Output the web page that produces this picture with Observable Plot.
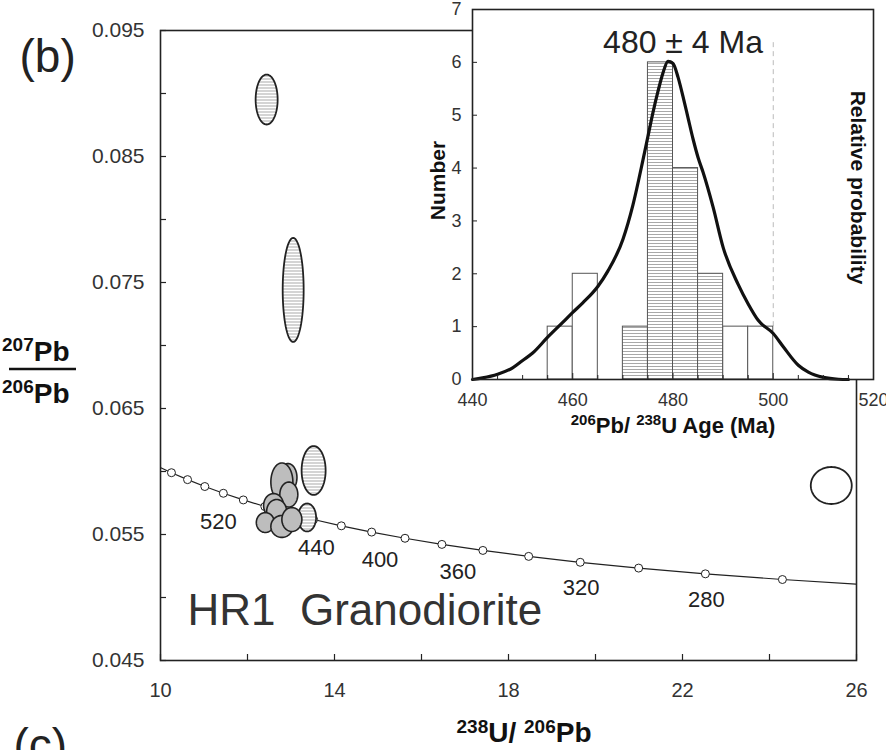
<!DOCTYPE html>
<html><head><meta charset="utf-8">
<script src="https://cdn.jsdelivr.net/npm/d3@7"></script>
<script src="https://cdn.jsdelivr.net/npm/@observablehq/plot@0.6"></script>
<style>
html,body{margin:0;padding:0;background:#fff;overflow:hidden}
#wrap{position:relative;width:886px;height:750px;overflow:hidden;background:#fff}
#wrap svg{position:absolute;left:0;top:0}
</style></head><body><div id="wrap"></div>
<script>
const FONT = "'Liberation Sans', Arial, Helvetica, sans-serif";

// ---------- Main Tera-Wasserburg diagram ----------
const xTickLabels = [10, 14, 18, 22, 26];
const xTickMarks = [10, 12, 14, 16, 18, 20, 22, 24, 26];
const yTickLabels = [0.045, 0.055, 0.065, 0.075, 0.085, 0.095];
const yTickMarks = [0.045, 0.05, 0.055, 0.06, 0.065, 0.07, 0.075, 0.08, 0.085, 0.09, 0.095];

// concordia (age in Ma, 238U/206Pb, 207Pb/206Pb)
const concAge = [620, 600, 580, 560, 540, 520, 500, 480, 460, 440, 420, 400, 380, 360, 340, 320, 300, 280, 260, 240];
const concX = [9.906, 10.252, 10.622, 11.019, 11.445, 11.904, 12.399, 12.936, 13.520, 14.157, 14.854, 15.621, 16.469, 17.411, 18.464, 19.649, 20.992, 22.526, 24.297, 26.364];
const concY = [0.060460, 0.059904, 0.059354, 0.058808, 0.058272, 0.057743, 0.057219, 0.056703, 0.056193, 0.055689, 0.055192, 0.054700, 0.054215, 0.053736, 0.053263, 0.052795, 0.052334, 0.051878, 0.051427, 0.050981];
const concMarkedAges = [600, 580, 560, 540, 520, 500, 480, 460, 440, 420, 400, 380, 360, 340, 320, 300, 280, 260];
const concLabelsA = [520, 440, 400, 360];
const concLabelsB = [320, 280];

// error ellipses: centre and semi-axes in data units
const hatchedEllipses = [
  {x: 12.44, y: 0.08952, rx: 0.253, ry: 0.00198},
  {x: 13.05, y: 0.07441, rx: 0.241, ry: 0.00413},
  {x: 13.52, y: 0.06008, rx: 0.276, ry: 0.00194},
  {x: 13.37, y: 0.05635, rx: 0.207, ry: 0.00111}
];
const openEllipses = [
  {x: 25.42, y: 0.05889, rx: 0.471, ry: 0.00147}
];
const grayEllipses = [
  {x: 12.93, y: 0.05952, rx: 0.207, ry: 0.00111},
  {x: 12.79, y: 0.05917, rx: 0.253, ry: 0.00151},
  {x: 12.95, y: 0.05817, rx: 0.207, ry: 0.00099},
  {x: 12.60, y: 0.05730, rx: 0.230, ry: 0.00095},
  {x: 12.67, y: 0.05683, rx: 0.230, ry: 0.00095},
  {x: 12.41, y: 0.05595, rx: 0.207, ry: 0.00079},
  {x: 12.79, y: 0.05564, rx: 0.253, ry: 0.00087},
  {x: 13.02, y: 0.05619, rx: 0.230, ry: 0.00095}
];
const sampleName = "HR1  Granodiorite";

// ---------- Inset histogram ----------
const binStart = [455, 460, 470, 475, 480, 485, 490, 495];
const binCount = [1, 2, 1, 6, 4, 2, 1, 1];
const binUsed = [false, false, true, true, true, true, false, false];
const binWidth = 5;
const insetXTicks = [440, 460, 480, 500, 520];
const insetYTicks = [0, 1, 2, 3, 4, 5, 6, 7];
const pdfAge = [440, 442, 445, 448, 450, 452, 455, 458, 460, 462, 465, 467, 470, 472, 474, 475, 476, 477, 478, 479, 480, 481, 482, 483, 484, 485, 486, 488, 490, 493, 495, 497, 500, 502, 505, 507, 510, 513, 515];
const pdfValue = [0.0, 0.03, 0.10, 0.22, 0.36, 0.50, 0.80, 1.08, 1.27, 1.45, 1.76, 2.05, 2.65, 3.30, 4.15, 4.60, 5.05, 5.45, 5.80, 6.02, 5.98, 5.72, 5.35, 4.95, 4.55, 4.20, 3.92, 3.26, 2.50, 1.80, 1.43, 1.12, 0.87, 0.62, 0.27, 0.14, 0.04, 0.005, 0.0];
const meanAgeLabel = "480 ± 4 Ma";

// ---------- derived tables ----------
const conc = concAge.map((a, i) => ({age: a, x: concX[i], y: concY[i]}));
const concDots = conc.filter(d => concMarkedAges.includes(d.age));
const labA = conc.filter(d => concLabelsA.includes(d.age));
const labB = conc.filter(d => concLabelsB.includes(d.age));
function outline(list) {
  return list.flatMap((e, i) => d3.range(0, 361, 5).map(a => ({
    id: i,
    x: e.x + e.rx * Math.cos(a * Math.PI / 180),
    y: e.y + e.ry * Math.sin(a * Math.PI / 180)
  })));
}
const bins = binStart.map((s, i) => ({x1: s, x2: s + binWidth, n: binCount[i], used: binUsed[i]}));
const pdf = pdfAge.map((a, i) => ({age: a, v: pdfValue[i]}));

const ink = "#222";
const hatchDef = id => `<pattern id="${id}" patternUnits="userSpaceOnUse" width="6" height="3"><rect width="6" height="3" fill="#fff"/><line x1="0" y1="0.5" x2="6" y2="0.5" stroke="#a8a8a8" stroke-width="1"/></pattern>`;

const main = Plot.plot({
  width: 886, height: 750,
  marginLeft: 160, marginRight: 30, marginTop: 30, marginBottom: 90,
  style: {fontFamily: FONT, fontSize: "20px", background: "transparent", color: ink},
  x: {domain: [10, 26], label: null},
  y: {domain: [0.045, 0.095], label: null},
  marks: [
    Plot.line(conc, {x: "x", y: "y", stroke: ink, strokeWidth: 1.2, clip: true}),
    Plot.dot(concDots, {x: "x", y: "y", r: 4, fill: "white", stroke: ink, strokeWidth: 1}),
    Plot.line(outline(hatchedEllipses), {x: "x", y: "y", z: "id", fill: "url(#hatchM)", stroke: ink, strokeWidth: 1.8}),
    Plot.line(outline(openEllipses), {x: "x", y: "y", z: "id", fill: "white", stroke: ink, strokeWidth: 1.8}),
    Plot.line(outline(grayEllipses), {x: "x", y: "y", z: "id", fill: "#bdbdbd", stroke: ink, strokeWidth: 1.6}),
    Plot.text(labA, {x: "x", y: "y", text: d => String(d.age), dx: -25, dy: 22, fontSize: 22, fill: ink}),
    Plot.text(labB, {x: "x", y: "y", text: d => String(d.age), dx: 1, dy: 26, fontSize: 22, fill: ink}),
    Plot.text([sampleName], {frameAnchor: "bottom-left", dx: 27, dy: -36, textAnchor: "start", fontSize: 44, fill: "#333"}),
    Plot.ruleX(xTickMarks, {x: d => d, y1: 0.045, y2: 0.045, insetTop: -6, stroke: ink, strokeWidth: 1.2}),
    Plot.ruleY(yTickMarks, {y: d => d, x1: 10, x2: 10, insetRight: -6, stroke: ink, strokeWidth: 1.2}),
    Plot.axisX(xTickLabels, {tickSize: 0, tickPadding: 22, fontSize: 20, fill: "#333", label: null}),
    Plot.axisY(yTickLabels, {tickSize: 0, tickPadding: 16, fontSize: 21, fill: "#333", tickFormat: d3.format(".3f"), label: null}),
    Plot.frame({stroke: ink, strokeWidth: 1.6}),
    Plot.text(["(b)"], {frameAnchor: "top-left", dx: -141, dy: 9, textAnchor: "start", fontSize: 46, fill: ink}),
    Plot.text(["(c)"], {frameAnchor: "bottom-left", dx: -147, dy: 100, textAnchor: "start", fontSize: 46, fill: ink})
  ]
});
d3.select(main).insert("defs", ":first-child").html(hatchDef("hatchM"));

// compound axis labels with superscripts
const ms = d3.select(main);
const yl = ms.append("g").attr("font-family", FONT).attr("font-weight", "bold").attr("fill", "#111").attr("text-anchor", "start");
const numer = yl.append("text").attr("x", 2).attr("y", 361);
numer.append("tspan").attr("font-size", 19).attr("dy", -10).text("207");
numer.append("tspan").attr("font-size", 28).attr("dy", 10).text("Pb");
yl.append("line").attr("x1", 9).attr("x2", 76).attr("y1", 369).attr("y2", 369).attr("stroke", "#111").attr("stroke-width", 2.5);
const denom = yl.append("text").attr("x", 2).attr("y", 403);
denom.append("tspan").attr("font-size", 19).attr("dy", -10).text("206");
denom.append("tspan").attr("font-size", 28).attr("dy", 10).text("Pb");
const xl = yl.append("text").attr("x", 524).attr("y", 742).attr("text-anchor", "middle");
xl.append("tspan").attr("font-size", 19).attr("dy", -9).text("238");
xl.append("tspan").attr("font-size", 28).attr("dy", 9).text("U/ ");
xl.append("tspan").attr("font-size", 19).attr("dy", -9).text("206");
xl.append("tspan").attr("font-size", 28).attr("dy", 9).text("Pb");

const inset = Plot.plot({
  width: 886, height: 750,
  marginLeft: 472, marginRight: 13, marginTop: 9, marginBottom: 371,
  style: {fontFamily: FONT, fontSize: "18px", background: "transparent", color: ink},
  x: {domain: [440, 520], label: null},
  y: {domain: [0, 7], label: null},
  marks: [
    Plot.frame({fill: "white", stroke: null}),
    Plot.ruleX([500], {x: d => d, y1: 1, y2: 6.4, stroke: "#bbb", strokeDasharray: "5,4"}),
    Plot.rect(bins.filter(d => !d.used), {x1: "x1", x2: "x2", y1: 0, y2: "n", fill: "white", stroke: "#555", strokeWidth: 1}),
    Plot.rect(bins.filter(d => d.used), {x1: "x1", x2: "x2", y1: 0, y2: "n", fill: "url(#hatchI)", stroke: "#555", strokeWidth: 1}),
    Plot.line(pdf, {x: "age", y: "v", stroke: "#111", strokeWidth: 3.2, curve: "monotone-x"}),
    Plot.ruleX(d3.range(440, 521, 5).filter(a => a % 20 !== 0), {x: d => d, y1: 0, y2: 0, insetTop: -4, stroke: ink}),
    Plot.ruleX(insetXTicks, {x: d => d, y1: 0, y2: 0, insetTop: -6, stroke: ink}),
    Plot.ruleY(insetYTicks, {y: d => d, x1: 440, x2: 440, insetRight: -5, stroke: ink}),
    Plot.axisX(insetXTicks, {tickSize: 0, tickPadding: 14, fontSize: 18, fill: "#333", label: null}),
    Plot.axisY(insetYTicks, {tickSize: 0, tickPadding: 11, fontSize: 18, fill: "#333", tickFormat: d3.format("d"), label: null}),
    Plot.frame({stroke: ink, strokeWidth: 1.6}),
    Plot.text([meanAgeLabel], {x: 482, y: 6.38, fontSize: 32, fill: ink}),
    Plot.text(["Number"], {frameAnchor: "left", dx: -34, dy: -14, rotate: -90, textAnchor: "middle", fontSize: 21, fontWeight: "bold", fill: "#111"}),
    Plot.text(["Relative probability"], {frameAnchor: "right", dx: -16, dy: -7, rotate: 90, textAnchor: "middle", fontSize: 21, fontWeight: "bold", fill: "#111"})
  ]
});
d3.select(inset).insert("defs", ":first-child").html(hatchDef("hatchI"));
const il = d3.select(inset).append("text").attr("x", 673).attr("y", 433).attr("text-anchor", "middle")
  .attr("font-family", FONT).attr("font-weight", "bold").attr("fill", "#111");
il.append("tspan").attr("font-size", 15).attr("dy", -8).text("206");
il.append("tspan").attr("font-size", 22).attr("dy", 8).text("Pb/ ");
il.append("tspan").attr("font-size", 15).attr("dy", -8).text("238");
il.append("tspan").attr("font-size", 22).attr("dy", 8).text("U Age (Ma)");

const wrap = document.getElementById("wrap");
wrap.appendChild(main);
wrap.appendChild(inset);
</script>
</body></html>
